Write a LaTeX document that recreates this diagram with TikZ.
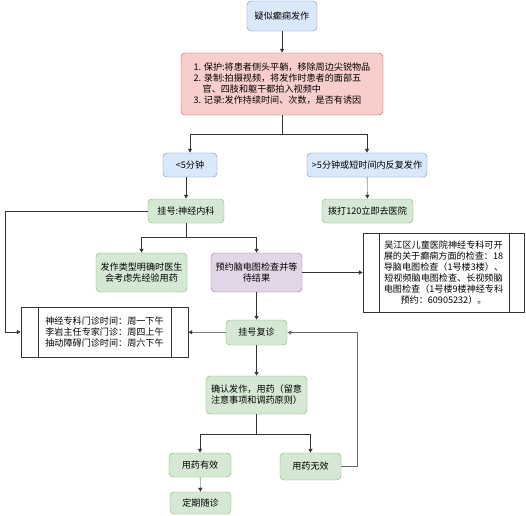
\documentclass[tikz,border=0pt]{standalone}
\usepackage{fontspec}
\setmainfont{Noto Sans CJK SC}
\usepackage{tikz}
\usetikzlibrary{arrows.meta}
\usetikzlibrary{calc}

\definecolor{bluefill}{HTML}{DAE8FC}
\definecolor{blueline}{HTML}{6C8EBF}
\definecolor{redfill}{HTML}{F8CECC}
\definecolor{redline}{HTML}{B85450}
\definecolor{greenfill}{HTML}{D5E8D4}
\definecolor{greenline}{HTML}{82B366}
\definecolor{purplefill}{HTML}{E1D5E7}
\definecolor{purpleline}{HTML}{9673A6}

\begin{document}
\begin{tikzpicture}[x=1pt, y=-1pt,
    box/.style={rounded corners=4pt, inner sep=0pt, align=center,
      font=\fontsize{9.1}{11}\selectfont},
    bluebox/.style={box, draw=blueline, fill=bluefill},
    redbox/.style={box, draw=redline, fill=redfill},
    greenbox/.style={box, draw=greenline, fill=greenfill},
    purplebox/.style={box, draw=purpleline, fill=purplefill},
    tablebox/.style={draw=black!80, fill=white, inner sep=0pt,
      font=\fontsize{9.1}{11}\selectfont},
    link/.style={draw=black!80, arrows=-{Latex[length=4pt,width=4.5pt]}}]
  \useasboundingbox (0,0) rectangle (526,515);

  \node [bluebox, minimum width=70, minimum height=30] (top) at (282,16) {疑似癫痫发作}; % start
  \node [redbox, minimum width=202, minimum height=62, align=left] (care) at (282,84)
    {1. 保护:将患者侧头平躺，移除周边尖锐物品\\
     2. 录制:拍摄视频，将发作时患者的面部五\\
     \hspace*{9pt}官、四肢和躯干都拍入视频中\\
     3. 记录:发作持续时间、次数，是否有诱因}; % first aid

  \node [bluebox, minimum width=54, minimum height=24] (less5) at (190,165) {<5分钟};
  \node [bluebox, minimum width=120, minimum height=24] (more5) at (367,165) {>5分钟或短时间内反复发作};

  \node [greenbox, minimum width=76, minimum height=24] (reg) at (186,211) {挂号:神经内科};
  \node [greenbox, minimum width=91, minimum height=24] (call) at (367.5,211) {拨打120立即去医院};

  \node [greenbox, minimum width=91, minimum height=39] (exp) at (141.5,272.5) {发作类型明确时医生\\会考虑先经验用药};
  \node [purplebox, minimum width=91, minimum height=39] (eeg) at (256.5,272.5) {预约脑电图检查并等\\待结果};

  \node [tablebox, minimum width=161, minimum height=79, align=center] (info) at (443.5,272.5)
    {吴江区儿童医院神经专科可开\\展的关于癫痫方面的检查：18\\导脑电图检查（1号楼3楼）、\\
     短视频脑电图检查、长视频脑\\电图检查（1号楼9楼神经专科\\预约：60905232）。}; % exams
  \draw [black!80] ([xshift=16]info.north west) -- ([xshift=16]info.south west);
  \draw [black!80] ([xshift=-15]info.north east) -- ([xshift=-15]info.south east);

  \node [greenbox, minimum width=61, minimum height=25] (back) at (256.5,332.5) {挂号复诊};
  \node [tablebox, minimum width=167, minimum height=50, align=left] (hours) at (104.5,332)
    {神经专科门诊时间：周一下午\\李岩主任专家门诊：周四上午\\抽动障碍门诊时间：周六下午}; % clinic hours
  \draw [black!80] ([xshift=17]hours.north west) -- ([xshift=17]hours.south west);
  \draw [black!80] ([xshift=-17]hours.north east) -- ([xshift=-17]hours.south east);

  \node [greenbox, minimum width=101, minimum height=38] (confirm) at (256.5,395) {确认发作，用药（留意\\注意事项和调药原则）};
  \node [greenbox, minimum width=62, minimum height=24] (works) at (200,465) {用药有效};
  \node [greenbox, minimum width=61, minimum height=27] (fails) at (310.5,466.5) {用药无效};
  \node [greenbox, minimum width=61, minimum height=22] (visit) at (200.5,503) {定期随诊};

  \coordinate (forkA) at (282,134);
  \coordinate (forkB) at (186,237);
  \coordinate (forkC) at (256.5,434);
  \coordinate (bendA) at (5,211);
  \coordinate (bendB) at (357,466.5);

  \draw [link] (top) -- (care);
  \draw [black!80] (care) -- (forkA);
  \draw [link] (forkA) -| (less5.north);
  \draw [link] (forkA) -| (more5.north);
  \draw [link] (less5.south -| reg.north) -- (reg.north);
  \draw [link] (more5) -- (call);

  \draw [black!80] (reg) -- (forkB);
  \draw [link] (forkB) -| (exp.north);
  \draw [link] (forkB) -| (eeg.north);
  \draw [link] (reg.west) -- (bendA) |- (hours.west);

  \draw [link] (eeg) -- (info);
  \draw [link] (eeg) -- (back);
  \draw [link] (back) -- (hours);
  \draw [link] (back) -- (confirm);

  \draw [black!80] (confirm) -- (forkC);
  \draw [link] (forkC) -| (works.north);
  \draw [link] (forkC) -| (fails.north);
  \draw [link] (works) -- (visit);
  \draw [link, draw=black!60] (fails.east) -- (bendB) |- (back.east); % back to follow-up
\end{tikzpicture}
\end{document}
